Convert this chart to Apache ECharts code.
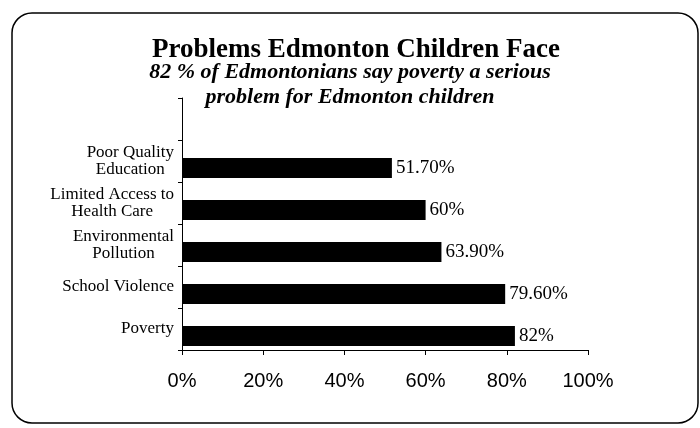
<html>
    <head>
        <style>
            body,html{margin:0;padding:0;width:100%;height:100%;background:#fff;}
            #chart{width:700px;height:428px;}
        </style>
        <script src="https://cdn.jsdelivr.net/npm/echarts@6/dist/echarts.min.js"></script>
    </head>
    <body>
        <div id="chart"></div>
        <script>
            // bottom -> top, the last one is the empty slot above the bars
            var categories = ["Poverty", "School Violence", "Environmental\nPollution", "Limited Access to\nHealth Care", "Poor Quality\nEducation", ""];
            var percentValues = [82, 79.6, 63.9, 60, 51.7, null];
            var valueLabels = ["82%", "79.60%", "63.90%", "60%", "51.70%", ""];
            var xTicks = [0, 20, 40, 60, 80, 100];

            var chart = echarts.init(document.getElementById("chart"), null, {renderer: "canvas"});

            var option = {
                backgroundColor: "#fff",
                animation: false,
                title: [
                    {
                        text: "Problems Edmonton Children Face",
                        left: 356,
                        top: 29,
                        textAlign: "center",
                        padding: 0,
                        textStyle: {fontFamily: "Liberation Serif", fontWeight: "bold", fontSize: 27, color: "#000"}
                    },
                    {
                        text: "82 % of Edmontonians say poverty a serious\nproblem for Edmonton children",
                        left: 350,
                        top: 60,
                        textAlign: "center",
                        padding: 0,
                        textStyle: {fontFamily: "Liberation Serif", fontWeight: "bold", fontStyle: "italic", fontSize: 22, lineHeight: 25, color: "#000"}
                    }
                ],
                graphic: [{
                    type: "rect",
                    shape: {x: 12, y: 13, width: 686, height: 410, r: 20},
                    style: {fill: null, stroke: "#000", lineWidth: 1.5}
                }],
                grid: {left: 182, right: 112, top: 98, bottom: 78},
                xAxis: {
                    type: "value",
                    min: xTicks[0],
                    max: xTicks[xTicks.length - 1],
                    interval: 20,
                    splitLine: {show: false},
                    axisLine: {show: true, lineStyle: {color: "#000", width: 1}},
                    axisTick: {show: true, length: 5, lineStyle: {color: "#000"}},
                    axisLabel: {
                        margin: 14,
                        fontFamily: "Liberation Sans",
                        fontSize: 20,
                        color: "#000",
                        formatter: function(v){ return v + "%"; }
                    }
                },
                yAxis: {
                    type: "category",
                    data: categories,
                    axisLine: {show: true, lineStyle: {color: "#000", width: 1}},
                    axisTick: {show: true, length: 4, lineStyle: {color: "#000"}},
                    axisLabel: {
                        margin: 8,
                        formatter: function(v){
                            if(!v) return "";
                            return v.split("\n").map(function(s){ return "{c|" + s + "}"; }).join("\n");
                        },
                        rich: {
                            c: {align: "center", fontFamily: "Liberation Serif", fontSize: 17, lineHeight: 17, color: "#000"}
                        }
                    }
                },
                series: [
                    {
                        // empty spacer so the bars sit low in each band
                        name: "spacer",
                        type: "bar",
                        barWidth: 14,
                        barGap: "0%",
                        data: categories.map(function(){ return null; }),
                        silent: true
                    },
                    {
                        name: "percent",
                        type: "bar",
                        barWidth: 20,
                        barGap: "0%",
                        data: percentValues,
                        itemStyle: {color: "#000"},
                        label: {
                            show: true,
                            position: "right",
                            distance: 4,
                            fontFamily: "Liberation Serif",
                            fontSize: 19,
                            color: "#000",
                            formatter: function(p){ return valueLabels[p.dataIndex]; }
                        }
                    }
                ]
            };

            chart.setOption(option);
        </script>
    </body>
</html>
